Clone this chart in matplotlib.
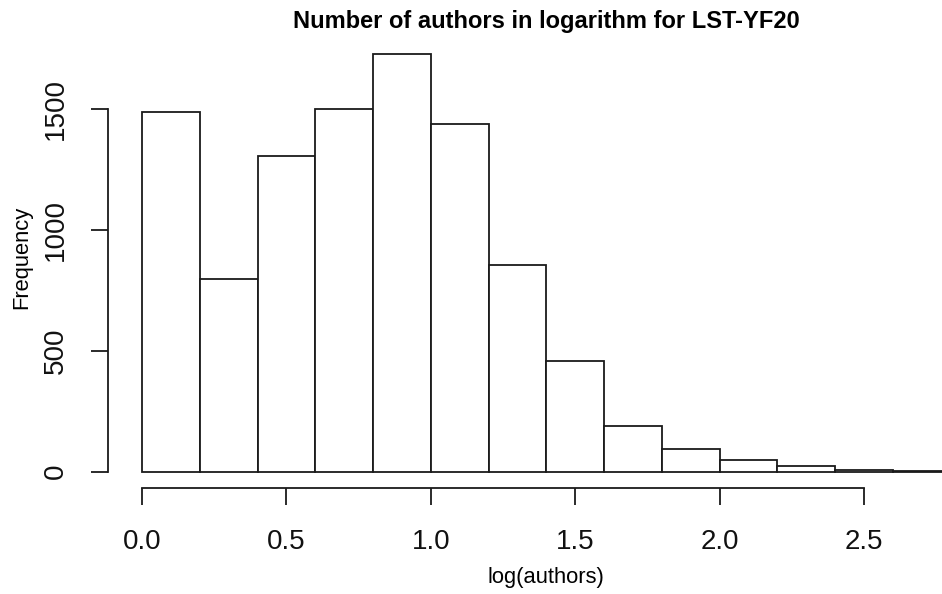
import matplotlib
matplotlib.use("Agg")
import matplotlib.pyplot as plt

plt.rcParams['font.family'] = ['Liberation Sans', 'DejaVu Sans']

# histogram data (bin left edges and counts)
bin_left = [0.0, 0.2, 0.4, 0.6, 0.8, 1.0, 1.2, 1.4, 1.6, 1.8, 2.0, 2.2, 2.4, 2.6]
counts = [1488, 797, 1307, 1503, 1730, 1438, 856, 458, 189, 95, 48, 21, 5, 3]
bin_width = 0.2
x_ticks = [0.0, 0.5, 1.0, 1.5, 2.0, 2.5]
x_ticklabels = ['0.0', '0.5', '1.0', '1.5', '2.0', '2.5']
y_ticks = [0, 500, 1000, 1500]

W, H = 942, 594
fig = plt.figure(figsize=(W / 100, H / 100), dpi=100)

# plot region in pixels (R style, extends past right edge of the image)
left_px, right_px, top_px, bottom_px = 108, 985, 37, 488
ax = fig.add_axes([left_px / W, 1 - bottom_px / H,
                   (right_px - left_px) / W, (bottom_px - top_px) / H])

ax.bar(bin_left, counts, width=bin_width, align='edge',
       facecolor='white', edgecolor='#1a1a1a', linewidth=1.3)

px_per_unit = 288.8
x0 = -(142 - left_px) / px_per_unit
ax.set_xlim(x0, x0 + (right_px - left_px) / px_per_unit)
px_per_count = 0.2415
y0 = -(bottom_px - 471.5) / px_per_count
ax.set_ylim(y0, y0 + (bottom_px - top_px) / px_per_count)

for s in ['top', 'right']:
    ax.spines[s].set_visible(False)
ax.spines['left'].set_bounds(0, 1500)
ax.spines['bottom'].set_bounds(0, 2.5)
for s in ['left', 'bottom']:
    ax.spines[s].set_linewidth(1.3)
    ax.spines[s].set_color('#1a1a1a')

ax.set_xticks(x_ticks)
ax.set_xticklabels(x_ticklabels)
ax.set_yticks(y_ticks)
ax.set_yticklabels([str(v) for v in y_ticks], rotation=90, va='center')
ax.tick_params(axis='both', direction='out', length=12.2, width=1.3,
               color='#1a1a1a', labelsize=20, labelcolor='#111111')
ax.tick_params(axis='x', pad=17)
ax.tick_params(axis='y', pad=16)

cx = 546 / W
fig.text(cx, 1 - 28 / H, 'Number of authors in logarithm for LST-YF20',
         ha='center', va='baseline', fontsize=17, fontweight='bold')
fig.text(cx, 1 - 583 / H, 'log(authors)', ha='center', va='baseline',
         fontsize=15.8)
fig.text(22 / W, 1 - 257 / H, 'Frequency', ha='center', va='center',
         rotation=90, fontsize=15.8)

fig.savefig('out.png', dpi=100)
